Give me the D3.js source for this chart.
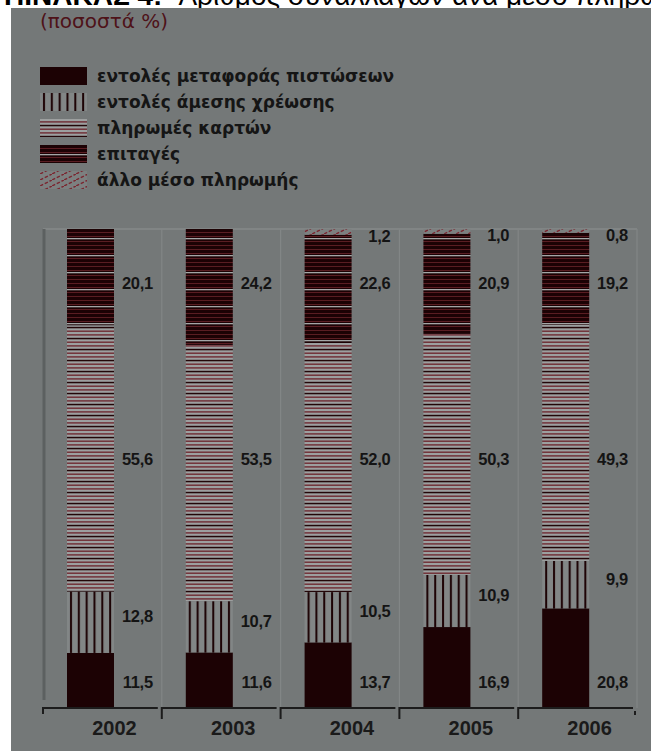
<!DOCTYPE html>
<html>
<head>
<meta charset="utf-8">
<script src="https://cdn.jsdelivr.net/npm/d3@7"></script>
<style>
  body { margin: 0; background: #fff; }
  svg { display: block; }
</style>
</head>
<body>
<div id="chart"></div>
<script>
// data (percent of transactions by payment instrument)
var years = ["2002", "2003", "2004", "2005", "2006"];
var seriesKeys = ["transfers", "debits", "cards", "cheques", "other"];
var seriesNames = ["εντολές μεταφοράς πιστώσεων", "εντολές άμεσης χρέωσης",
                   "πληρωμές καρτών", "επιταγές", "άλλο μέσο πληρωμής"];
var transfers = [11.5, 11.6, 13.7, 16.9, 20.8];
var debits    = [12.8, 10.7, 10.5, 10.9, 9.9];
var cards     = [55.6, 53.5, 52.0, 50.3, 49.3];
var cheques   = [20.1, 24.2, 22.6, 20.9, 19.2];
var other     = [0, 0, 1.2, 1.0, 0.8];

var W = 651, H = 751;
var panel = "#747878", dark = "#1c0204", maroon = "#6e2a31", light = "#9c9f9f";

var table = years.map(function(y, i) {
  return {year: y, transfers: transfers[i], debits: debits[i], cards: cards[i],
          cheques: cheques[i], other: other[i]};
});

var svg = d3.select("#chart").append("svg")
    .attr("width", W)
    .attr("height", H);

// title (cut off by the panel, as in the source)
svg.append("text")
    .attr("x", 4).attr("y", 5)
    .style("font", "bold 28px 'Liberation Sans', Arial, sans-serif")
    .text("ΠΙΝΑΚΑΣ 4:")
  .append("tspan")
    .style("font-weight", "normal")
    .attr("dx", 16)
    .text("Αριθμός συναλλαγών ανά μέσο πληρωμής");

svg.append("rect")
    .attr("x", 11).attr("y", 8)
    .attr("width", W - 11).attr("height", H - 8)
    .attr("fill", panel);

// patterns
var defs = svg.append("defs");

var pv = defs.append("pattern").attr("id", "p-debits")
    .attr("patternUnits", "objectBoundingBox")
    .attr("width", 1 / 6).attr("height", 1);
pv.append("rect").attr("width", 20).attr("height", 2000).attr("fill", "#828686");
pv.append("rect").attr("x", 3).attr("width", 2).attr("height", 2000).attr("fill", dark);

var pc = defs.append("pattern").attr("id", "p-cards")
    .attr("patternUnits", "userSpaceOnUse")
    .attr("width", 10).attr("height", 11);
pc.append("rect").attr("width", 10).attr("height", 11).attr("fill", light);
pc.append("rect").attr("y", 0.5).attr("width", 10).attr("height", 1.4).attr("fill", maroon);
pc.append("rect").attr("y", 4.2).attr("width", 10).attr("height", 1.4).attr("fill", maroon);
pc.append("rect").attr("y", 7.8).attr("width", 10).attr("height", 1.5).attr("fill", "#230608");

var pq = defs.append("pattern").attr("id", "p-cheques")
    .attr("patternUnits", "userSpaceOnUse")
    .attr("width", 10).attr("height", 17);
pq.append("rect").attr("width", 10).attr("height", 17).attr("fill", dark);
[3, 7, 11, 15].forEach(function(v) {
  pq.append("rect").attr("y", v).attr("width", 10).attr("height", 1).attr("fill", "#5a1d22");
});
pq.append("rect").attr("y", 0).attr("width", 10).attr("height", 1.3).attr("fill", "#a3a6a6");

var po = defs.append("pattern").attr("id", "p-other")
    .attr("patternUnits", "userSpaceOnUse")
    .attr("width", 12).attr("height", 6);
po.append("rect").attr("width", 12).attr("height", 6).attr("fill", "#7c8080");
po.append("path").attr("d", "M0,6 L12,0")
    .attr("stroke", "#7a2630").attr("stroke-width", 1.5).attr("stroke-dasharray", "3.5,1.8");

var fills = {transfers: dark, debits: "url(#p-debits)", cards: "url(#p-cards)",
             cheques: "url(#p-cheques)", other: "url(#p-other)"};

// subtitle
svg.append("text")
    .attr("x", 40).attr("y", 21)
    .attr("dominant-baseline", "central")
    .attr("fill", "#4e1218")
    .style("font", "20px 'DejaVu Sans', sans-serif")
    .text("(ποσοστά %)");

// legend
var legend = svg.append("g").selectAll("g")
    .data(seriesKeys)
    .enter().append("g")
      .attr("transform", function(d, i) { return "translate(40," + (76 + i * 26) + ")"; });
legend.append("rect")
    .attr("y", -9).attr("width", 47).attr("height", 18)
    .attr("fill", function(d) { return fills[d]; });
legend.append("text")
    .attr("x", 57)
    .attr("dominant-baseline", "central")
    .attr("fill", "#151515")
    .style("font", "bold 17px 'DejaVu Sans', sans-serif")
    .text(function(d, i) { return seriesNames[i]; });

// scales
var x = d3.scaleBand().domain(years).range([43, 637]);
var y = d3.scaleLinear().domain([0, 100]).range([708, 229]);
var gw = x.bandwidth();

// frame
svg.append("line")
    .attr("x1", 43).attr("x2", 637).attr("y1", y(100)).attr("y2", y(100))
    .attr("stroke", "#868a8a").attr("stroke-width", 1.5);
svg.append("g").selectAll("line")
    .data(years.slice(1).concat(["end"]))
    .enter().append("line")
      .attr("x1", function(d) { return d === "end" ? 637 : x(d); })
      .attr("x2", function(d) { return d === "end" ? 637 : x(d); })
      .attr("y1", y(100)).attr("y2", y(0))
      .attr("stroke", "#828686").attr("stroke-width", 1.2);
svg.append("line")
    .attr("x1", 44).attr("x2", 44).attr("y1", y(100)).attr("y2", y(0) - 8)
    .attr("stroke", "#5c6060").attr("stroke-width", 3);

// stacked bars
var stack = d3.stack().keys(seriesKeys)(table);

var layers = svg.append("g").selectAll("g")
    .data(stack)
    .enter().append("g")
      .attr("fill", function(d) { return fills[d.key]; });

layers.selectAll("rect")
    .data(function(d) { return d; })
    .enter().append("rect")
      .attr("x", function(d) { return x(d.data.year) + 24; })
      .attr("width", 47)
      .attr("y", function(d) { return y(d[1]); })
      .attr("height", function(d) { return y(d[0]) - y(d[1]); });

// bottom axis brackets
svg.append("g").selectAll("path")
    .data(years)
    .enter().append("path")
      .attr("d", function(d, i) {
        var x0 = x(d);
        return "M" + x0 + "," + (y(0) + (i === 0 ? 6 : 11)) + "V" + y(0) + "H" + (x0 + gw - 4);
      })
      .attr("fill", "none").attr("stroke", "#1c1c1c").attr("stroke-width", 2);
svg.append("path")
    .attr("d", "M635," + (y(0) + 7) + "V" + (y(0) + 3))
    .attr("stroke", "#1c1c1c").attr("stroke-width", 2);

svg.append("g").selectAll("text")
    .data(years)
    .enter().append("text")
      .attr("x", function(d) { return x(d) + gw / 2 + 12; })
      .attr("y", y(0) + 20)
      .attr("text-anchor", "middle")
      .attr("dominant-baseline", "central")
      .attr("fill", "#1a1a1a")
      .style("font", "bold 20px 'Liberation Sans', Arial, sans-serif")
      .text(function(d) { return d; });

// value labels
var fmt = function(v) { return d3.format(".1f")(v).replace(".", ","); };
var mid = function(d) { return (y(d[0]) + y(d[1])) / 2; };

var labelY = {
  transfers: function() { return y(0) - 26; },
  debits: function(d) { return mid(d) - 6; },
  cards: function(d, s) { return d3.mean(s, mid); },
  cheques: function(d, s) { return d3.mean(s, mid); },
  other: function(d) { return mid(d) + 4; }
};

stack.forEach(function(s) {
  svg.append("g").selectAll("text")
      .data(s.filter(function(d) { return d[1] - d[0] > 0; }))
      .enter().append("text")
        .attr("x", function(d) { return x(d.data.year) + gw - 9; })
        .attr("y", function(d) { return labelY[s.key](d, s); })
        .attr("text-anchor", "end")
        .attr("dominant-baseline", "central")
        .attr("fill", "#141414")
        .attr("letter-spacing", -0.3)
        .style("font", "bold 16.5px 'Liberation Sans', sans-serif")
        .text(function(d) { return fmt(d[1] - d[0]); });
});
</script>
</body>
</html>
